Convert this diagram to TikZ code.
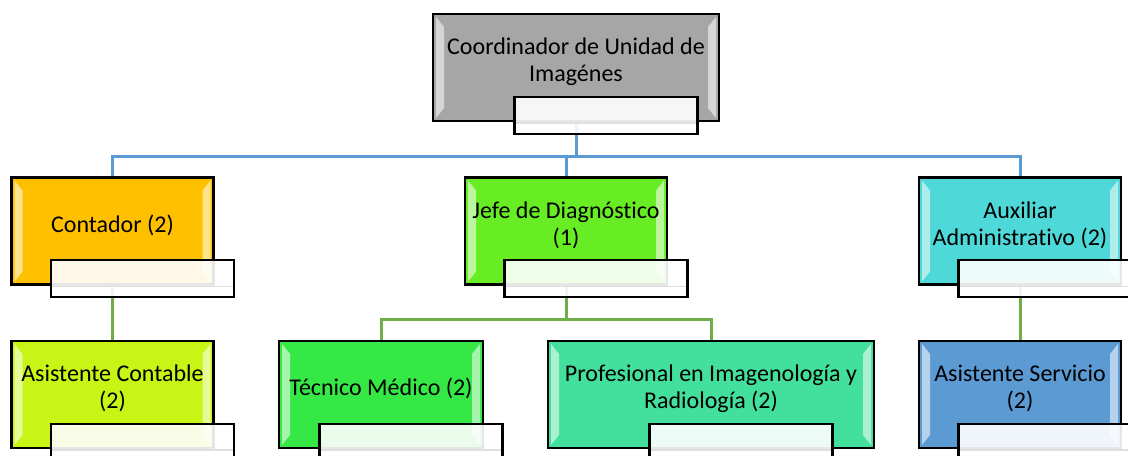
\documentclass[tikz,border=0pt]{standalone}
\usepackage{fontspec}
\setmainfont{Carlito}[Ligatures=NoCommon]
\usetikzlibrary{calc, backgrounds}

\definecolor{coordgray}{RGB}{166,166,166}
\definecolor{contorange}{RGB}{255,192,0}
\definecolor{jefegreen}{RGB}{104,236,36}
\definecolor{auxcyan}{RGB}{78,216,216}
\definecolor{asislime}{RGB}{200,244,22}
\definecolor{tecgreen}{RGB}{54,232,70}
\definecolor{profgreen}{RGB}{66,224,156}
\definecolor{servblue}{RGB}{92,154,212}
\definecolor{linkblue}{RGB}{91,155,213}
\definecolor{linkgreen}{RGB}{112,173,71}

\tikzset{
  unit/.style={draw=black, line width=1.1pt, fill=#1, minimum height=53.5pt, inner sep=0pt,
    path picture={
      \fill[white, opacity=0.55] ($(path picture bounding box.north west)+(1.5pt,-1.5pt)$) -- ++(4pt,-5pt)
        -- ($(path picture bounding box.south west)+(5.5pt,6.5pt)$) -- ++(-4pt,-5pt) -- cycle;
      \fill[white, opacity=0.55] ($(path picture bounding box.north east)+(-1.5pt,-1.5pt)$) -- ++(-4pt,-5pt)
        -- ($(path picture bounding box.south east)+(-5.5pt,6.5pt)$) -- ++(4pt,-5pt) -- cycle;
    }},
  tag/.style={draw=black, line width=1.1pt, fill=white, fill opacity=0.9, minimum width=91.5pt,
    minimum height=18.5pt, inner sep=0pt,
    path picture={
      \draw[gray!25, line width=0.8pt] ($(path picture bounding box.west)+(0,-4pt)$)
        -- ($(path picture bounding box.east)+(0,-4pt)$);
    }},
  caption/.style={align=center, font=\fontsize{12}{13.5}\selectfont, inner sep=0pt},
  bluelink/.style={draw=linkblue, line width=1.5pt},
  greenlink/.style={draw=linkgreen, line width=1.5pt}
}

\begin{document}
\begin{tikzpicture}[x=0.5pt, y=-0.5pt]
\useasboundingbox (0,0) rectangle (1128,455);
\clip (0,0) rectangle (1128,455);

% Top level
\node[unit=coordgray, minimum width=143pt] (coord) at (576,67.5) {};
\node[caption] (coordtxt) at ($(coord.center)+(0,-6)$) {Coordinador de Unidad de\\Imagénes};
\node[tag] (coordtag) at ($(coord.south)+(30,-7)$) {};

% Second level
\node[unit=contorange, minimum width=101pt] (cont) at (112.5,231) {};
\node[caption] (conttxt) at ($(cont.center)+(0,-6)$) {Contador (2)};
\node[tag] (conttag) at ($(cont.south)+(30,-7)$) {};

\node[unit=jefegreen, minimum width=101pt] (jefe) at (566,231) {};
\node[caption] (jefetxt) at ($(jefe.center)+(0,-6)$) {Jefe de Diagnóstico\\(1)};
\node[tag] (jefetag) at ($(jefe.south)+(30,-7)$) {};

\node[unit=auxcyan, minimum width=101pt] (aux) at (1020,231) {};
\node[caption] (auxtxt) at ($(aux.center)+(0,-6)$) {Auxiliar\\Administrativo (2)};
\node[tag] (auxtag) at ($(aux.south)+(30,-7)$) {};

% Third level
\node[unit=asislime, minimum width=101pt] (asis) at (112.5,394.5) {};
\node[caption] (asistxt) at ($(asis.center)+(0,-6)$) {Asistente Contable\\(2)};
\node[tag] (asistag) at ($(asis.south)+(30,-7)$) {};

\node[unit=tecgreen, minimum width=102pt] (tec) at (381,394.5) {};
\node[caption] (tectxt) at ($(tec.center)+(0,-6)$) {Técnico Médico (2)};
\node[tag] (tectag) at ($(tec.south)+(30,-7)$) {};

\node[unit=profgreen, minimum width=163pt] (prof) at (711,394.5) {};
\node[caption] (proftxt) at ($(prof.center)+(0,-6)$) {Profesional en Imagenología y\\Radiología (2)};
\node[tag] (proftag) at ($(prof.south)+(30,-7)$) {};

\node[unit=servblue, minimum width=101pt] (serv) at (1020,394.5) {};
\node[caption] (servtxt) at ($(serv.center)+(0,-6)$) {Asistente Servicio\\(2)};
\node[tag] (servtag) at ($(serv.south)+(30,-7)$) {};

% Connectors
\begin{scope}[on background layer]
\coordinate (topbus) at ($(coord.south)+(0,34)$);
\draw[bluelink] (coord.south) -- (topbus) -| (cont.north);
\draw[bluelink] (topbus) -| (aux.north);
\draw[bluelink] (topbus) -| (jefe.north);
\coordinate (jefebus) at ($(jefe.south)+(0,34)$);
\draw[greenlink] (jefe.south) -- (jefebus) -| (tec.north);
\draw[greenlink] (jefebus) -| (prof.north);
\draw[greenlink] (cont.south) -- (asis.north);
\draw[greenlink] (aux.south) -- (serv.north);
\end{scope}
\end{tikzpicture}
\end{document}
